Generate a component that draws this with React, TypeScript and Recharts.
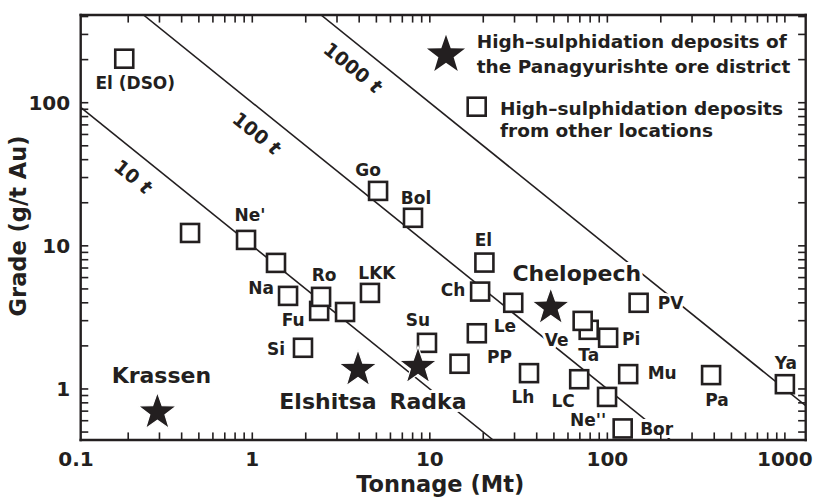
import React from "react"
import { Legend, Scatter, ScatterChart, XAxis, YAxis } from "recharts"

// high-sulphidation deposits from other locations (squares)
const otherNames = [
  "El (DSO)", "", "Ne'", "", "Na", "Fu", "Ro", "", "LKK", "Si", "Go", "Bol", "Su", "PP", "Le",
  "Ch", "El", "", "Ta", "Ve", "Pi", "PV", "Lh", "LC", "Ne''", "Bor", "Mu", "Pa", "Ya",
]
const otherTonnage = [
  0.19, 0.446, 0.922, 1.36, 1.59, 2.38, 2.44, 3.33, 4.6, 1.93, 5.11, 8.04, 9.64, 14.7, 18.4,
  19.2, 20.3, 29.5, 78.5, 72.6, 101, 150, 36.2, 69.4, 99.6, 122, 131, 384, 1000,
]
const otherGrade = [
  203, 12.3, 11.0, 7.6, 4.47, 3.51, 4.4, 3.45, 4.69, 1.94, 24.2, 15.7, 2.1, 1.5, 2.45,
  4.79, 7.64, 4.0, 2.59, 2.99, 2.28, 4.0, 1.29, 1.17, 0.88, 0.53, 1.27, 1.25, 1.08,
]

// Panagyurishte ore district (stars)
const panNames = ["Krassen", "Elshitsa", "Radka", "Chelopech"]
const panTonnage = [0.292, 3.94, 8.58, 48.0]
const panGrade = [0.705, 1.4, 1.47, 3.8]

// iso-metal lines (t Au)
const contourMetal = [10, 100, 1000]
const contourLabels = ["10", "100", "1000"]
const contourLabelTonnage = [0.253, 1.26, 4.38]

const xMajor = [0.1, 1, 10, 100, 1000]
const xTickLabels = ["0.1", "1", "10", "100", "1000"]
const yMajor = [1, 10, 100]
const yTickLabels = ["1", "10", "100"]

const X_DOMAIN: [number, number] = [0.108, 1310]
const Y_DOMAIN: [number, number] = [0.44, 410]

const INK = "#231f20"
const FONT = "'DejaVu Sans', 'Noto Sans', sans-serif"

// label nudges in px (style only)
const labelOffset: Record<string, [number, number]> = {
  "El (DSO)": [11, 24], "Ne'": [4, -25], Na: [-27, -8], Ro: [3, -22], Fu: [-26, 9],
  LKK: [7, -20], Si: [-27, 1], Go: [-10, -21], Bol: [3, -20], Su: [-9, -23], PP: [40, -7],
  Le: [28, -7], Ch: [-27, -2], El: [-1, -23], Ve: [-26, 19], Ta: [0, 25], Pi: [23, 1],
  PV: [32, 0], Lh: [-6, 24], LC: [-16, 22], "Ne''": [-19, 23], Bor: [34, 0], Mu: [34, -1],
  Pa: [6, 25], Ya: [1, -21],
  Krassen: [4, -36], Elshitsa: [-30, 33], Radka: [10, 36], Chelopech: [26, -33],
}

const others = otherNames.map((name, i) => ({ name, x: otherTonnage[i], y: otherGrade[i] }))
const district = panNames.map((name, i) => ({ name, x: panTonnage[i], y: panGrade[i] }))

const contours = contourMetal.map((t) => {
  const x0 = Math.max(X_DOMAIN[0], t / Y_DOMAIN[1])
  const x1 = Math.min(X_DOMAIN[1], t / Y_DOMAIN[0])
  return [{ x: x0, y: t / x0 }, { x: x1, y: t / x1 }]
})
const contourTags = contourMetal.map((t, i) => ({
  name: contourLabels[i],
  x: contourLabelTonnage[i],
  y: t / contourLabelTonnage[i],
}))

function decadeTicks([lo, hi]: [number, number]) {
  const out: number[] = []
  for (let d = -2; d <= 3; d++)
    for (let m = 1; m <= 9; m++) {
      const v = +(m * Math.pow(10, d)).toPrecision(3)
      if (v >= lo && v <= hi) out.push(v)
    }
  return out
}
// the 0.1 label sits on the plot's left edge
const xTicks = [X_DOMAIN[0], ...decadeTicks(X_DOMAIN)]
const yTicks = decadeTicks(Y_DOMAIN)

// inward tick marks on all four sides of the frame (kept a hair inside the domain)
const xIn = [X_DOMAIN[0] * 1.001, X_DOMAIN[1] * 0.999]
const yIn = [Y_DOMAIN[0] * 1.001, Y_DOMAIN[1] * 0.999]
const tickMarks = [
  ...decadeTicks(X_DOMAIN).map((v) => ({ x: v, y: yIn[0], side: "b" })),
  ...decadeTicks(X_DOMAIN).map((v) => ({ x: v, y: yIn[1], side: "t" })),
  ...yTicks.map((v) => ({ x: xIn[0], y: v, side: "l" })),
  ...yTicks.map((v) => ({ x: xIn[1], y: v, side: "r" })),
]

function starPath(cx: number, cy: number, R: number, r: number) {
  let d = ""
  for (let k = 0; k < 10; k++) {
    const rad = k % 2 === 0 ? R : r
    const a = (-90 + k * 36) * (Math.PI / 180)
    d += (k === 0 ? "M" : "L") + (cx + rad * Math.cos(a)).toFixed(2) + "," + (cy + rad * Math.sin(a)).toFixed(2)
  }
  return d + "Z"
}

const XTickLabel = (props: any) => {
  const { x, y, payload } = props
  const edge = payload.value === X_DOMAIN[0]
  const i = xMajor.indexOf(edge ? 0.1 : payload.value)
  if (i < 0) return <g />
  return (
    <text x={x + (edge ? -4.7 : 0)} y={y + 26} textAnchor="middle" fontFamily={FONT} fontWeight="bold" fontSize={20} fill={INK}>
      {xTickLabels[i]}
    </text>
  )
}

const YTickLabel = (props: any) => {
  const { x, y, payload } = props
  const i = yMajor.indexOf(payload.value)
  if (i < 0) return <g />
  return (
    <text x={x - 10.5} y={y} dy="0.36em" textAnchor="end" fontFamily={FONT} fontWeight="bold" fontSize={20} fill={INK}>
      {yTickLabels[i]}
    </text>
  )
}

// tick mark drawn as a thin filled rect pointing into the plot
const TickShape = (props: any) => {
  const { cx, cy, payload } = props
  const L = 7.5
  const w = 1.6
  const s = payload.side
  if (s === "b") return <rect x={cx - w / 2} y={cy - L} width={w} height={L} fill={INK} />
  if (s === "t") return <rect x={cx - w / 2} y={cy} width={w} height={L} fill={INK} />
  if (s === "l") return <rect x={cx} y={cy - w / 2} width={L} height={w} fill={INK} />
  return <rect x={cx - L} y={cy - w / 2} width={L} height={w} fill={INK} />
}

const haloText = (size: number) => (props: any) => {
  const { cx, cy, payload } = props
  const off = labelOffset[payload.name]
  if (!payload.name || !off) return <g />
  return (
    <text
      x={cx + off[0]}
      y={cy + off[1]}
      dy="0.36em"
      textAnchor="middle"
      fontFamily={FONT}
      fontWeight="bold"
      fontSize={size}
      fill={INK}
      stroke="#fff"
      strokeWidth={6}
      strokeLinejoin="round"
      paintOrder="stroke"
    >
      {payload.name}
    </text>
  )
}

const ContourTag = (props: any) => {
  const { cx, cy, payload } = props
  const tx = cx - 13.2
  const ty = cy + 16.3
  return (
    <text
      x={tx}
      y={ty}
      dy="0.36em"
      textAnchor="middle"
      transform={`rotate(38.9 ${tx} ${ty})`}
      fontFamily={FONT}
      fontWeight="bold"
      fontSize={19}
      fill={INK}
      stroke="#fff"
      strokeWidth={6}
      strokeLinejoin="round"
      paintOrder="stroke"
    >
      {payload.name} <tspan fontStyle="italic">t</tspan>
    </text>
  )
}

const SquareShape = (props: any) => {
  const { cx, cy } = props
  return <rect x={cx - 9} y={cy - 9} width={18} height={18} fill="#fff" stroke={INK} strokeWidth={2.6} />
}

const StarShape = (props: any) => {
  const { cx, cy } = props
  return <path d={starPath(cx, cy + 1.5, 20, 8)} fill={INK} stroke="#fff" strokeWidth={1.2} />
}

const Empty = () => <g />

const LegendBox = () => (
  <svg width={390} height={125} style={{ overflow: "visible" }}>
    <path d={starPath(26, 29.8, 20, 8)} fill={INK} />
    <text fontFamily={FONT} fontWeight="bold" fontSize={18.5} fill={INK}>
      <tspan x={56.7} y={23.3}>High–sulphidation deposits of</tspan>
      <tspan x={56.7} y={48}>the Panagyurishte ore district</tspan>
    </text>
    <rect x={47.7} y={72.7} width={18} height={18} fill="#fff" stroke={INK} strokeWidth={2.6} />
    <text fontFamily={FONT} fontWeight="bold" fontSize={18.5} fill={INK}>
      <tspan x={80} y={90}>High–sulphidation deposits</tspan>
      <tspan x={80} y={112}>from other locations</tspan>
    </text>
  </svg>
)

const XTitle = (props: any) => {
  const vb = props.viewBox || { x: 80.7, y: 440, width: 725, height: 1 }
  return (
    <text x={vb.x + vb.width / 2 - 3} y={vb.y + 52} textAnchor="middle" fontFamily={FONT} fontWeight="bold" fontSize={22.5} fill={INK}>
      Tonnage (Mt)
    </text>
  )
}

const YTitle = (props: any) => {
  const vb = props.viewBox || { x: 79.7, y: 15, width: 1, height: 425 }
  const tx = vb.x + vb.width - 55
  const ty = vb.y + vb.height / 2 - 1.5
  return (
    <text x={tx} y={ty} transform={`rotate(-90 ${tx} ${ty})`} textAnchor="middle" fontFamily={FONT} fontWeight="bold" fontSize={22.5} fill={INK}>
      Grade (g/t Au)
    </text>
  )
}

const axisLine = { stroke: INK, strokeWidth: 2.4, strokeLinecap: "square" as const }

export default function App() {
  return (
    <div style={{ position: "absolute", left: 0, top: 0, background: "#fff" }}>
      <ScatterChart width={814} height={503} margin={{ top: 14, right: 7.3, bottom: 62, left: 79.7 }}>
        <XAxis
          xAxisId="b"
          type="number"
          dataKey="x"
          scale="log"
          domain={X_DOMAIN}
          allowDataOverflow
          ticks={xTicks}
          interval={0}
          height={1}
          tickSize={0}
          tickMargin={0}
          tickLine={false}
          axisLine={axisLine}
          tick={XTickLabel}
          label={{ content: XTitle }}
        />
        <XAxis
          xAxisId="t"
          orientation="top"
          type="number"
          dataKey="x"
          scale="log"
          domain={X_DOMAIN}
          allowDataOverflow
          height={1}
          tickLine={false}
          axisLine={axisLine}
          tick={false}
        />
        <YAxis
          yAxisId="l"
          type="number"
          dataKey="y"
          scale="log"
          domain={Y_DOMAIN}
          allowDataOverflow
          ticks={yTicks}
          interval={0}
          width={1}
          tickSize={0}
          tickMargin={0}
          tickLine={false}
          axisLine={axisLine}
          tick={YTickLabel}
          label={{ content: YTitle }}
        />
        <YAxis
          yAxisId="r"
          orientation="right"
          type="number"
          dataKey="y"
          scale="log"
          domain={Y_DOMAIN}
          allowDataOverflow
          width={1}
          tickLine={false}
          axisLine={axisLine}
          tick={false}
        />
        <Legend
          layout="vertical"
          align="center"
          verticalAlign="middle"
          wrapperStyle={{ left: 420, top: 25, width: 390, height: 125 }}
          content={() => <LegendBox />}
        />
        {contours.map((pts, i) => (
          <Scatter
            key={"c" + i}
            xAxisId="b"
            yAxisId="l"
            data={pts}
            line={{ stroke: INK, strokeWidth: 1.6 }}
            shape={Empty}
            isAnimationActive={false}
          />
        ))}
        <Scatter xAxisId="b" yAxisId="l" data={contourTags} shape={ContourTag} isAnimationActive={false} />
        <Scatter xAxisId="b" yAxisId="l" data={others} shape={haloText(17)} isAnimationActive={false} />
        <Scatter xAxisId="b" yAxisId="l" data={district} shape={haloText(22)} isAnimationActive={false} />
        <Scatter xAxisId="b" yAxisId="l" data={others} shape={SquareShape} isAnimationActive={false} />
        <Scatter xAxisId="b" yAxisId="l" data={district} shape={StarShape} isAnimationActive={false} />
        <Scatter xAxisId="b" yAxisId="l" data={tickMarks} shape={TickShape} isAnimationActive={false} />
      </ScatterChart>
    </div>
  )
}
